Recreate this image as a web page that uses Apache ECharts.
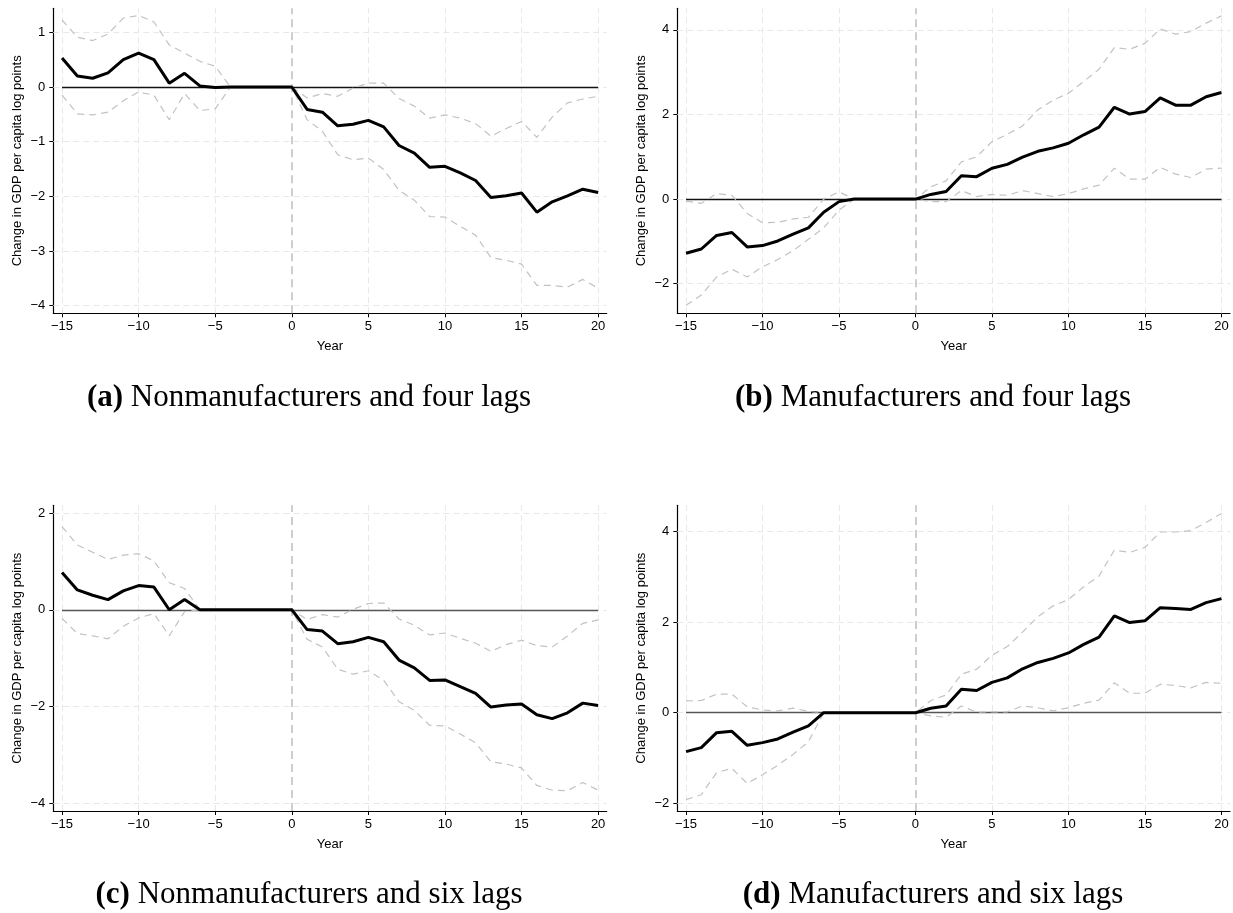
<!DOCTYPE html>
<html>
<head>
<meta charset="utf-8">
<script src="https://cdn.jsdelivr.net/npm/echarts@6/dist/echarts.min.js"></script>
<style>
  html, body { margin: 0; padding: 0; background: #fff; }
  #chart { width: 1233px; height: 913px; }
</style>
</head>
<body>
<div id="chart"></div>
<script>
// Event time, years relative to the event
const years = [-15,-14,-13,-12,-11,-10,-9,-8,-7,-6,-5,-4,-3,-2,-1,0,1,2,3,4,5,6,7,8,9,10,11,12,13,14,15,16,17,18,19,20];
const xTicks = [-15,-10,-5,0,5,10,15,20];

// (a) Nonmanufacturers, four lags
const aMain  = [0.53,0.20,0.16,0.26,0.50,0.62,0.50,0.07,0.25,0.02,-0.01,0,0,0,0,0,-0.41,-0.46,-0.71,-0.68,-0.61,-0.73,-1.07,-1.21,-1.47,-1.45,-1.57,-1.71,-2.02,-1.99,-1.94,-2.29,-2.10,-1.99,-1.87,-1.93];
const aUpper = [1.23,0.91,0.85,0.97,1.26,1.31,1.19,0.77,0.62,0.47,0.38,0,0,0,0,0,-0.20,-0.12,-0.17,-0.02,0.07,0.07,-0.21,-0.35,-0.57,-0.51,-0.57,-0.67,-0.90,-0.76,-0.63,-0.92,-0.55,-0.29,-0.22,-0.17];
const aLower = [-0.15,-0.49,-0.51,-0.46,-0.25,-0.09,-0.15,-0.60,-0.12,-0.43,-0.40,0,0,0,0,0,-0.60,-0.81,-1.24,-1.33,-1.30,-1.51,-1.89,-2.07,-2.37,-2.38,-2.55,-2.71,-3.12,-3.17,-3.24,-3.63,-3.63,-3.66,-3.52,-3.68];
const aTicks = [-4,-3,-2,-1,0,1];

// (b) Manufacturers, four lags
const bMain  = [-1.28,-1.18,-0.86,-0.79,-1.13,-1.10,-0.99,-0.83,-0.68,-0.31,-0.06,0,0,0,0,0,0.11,0.18,0.55,0.53,0.73,0.82,0.99,1.13,1.21,1.32,1.52,1.70,2.17,2.01,2.07,2.39,2.22,2.22,2.42,2.52];
const bUpper = [-0.05,-0.10,0.13,0.09,-0.34,-0.56,-0.55,-0.47,-0.43,0.00,0.17,0,0,0,0,0,0.29,0.43,0.88,1.00,1.36,1.53,1.73,2.11,2.34,2.50,2.78,3.07,3.58,3.54,3.68,4.02,3.90,3.96,4.16,4.33];
const bLower = [-2.51,-2.27,-1.84,-1.66,-1.84,-1.60,-1.43,-1.22,-0.95,-0.68,-0.26,0,0,0,0,0,-0.06,-0.06,0.20,0.06,0.11,0.09,0.20,0.13,0.06,0.13,0.24,0.33,0.73,0.47,0.47,0.75,0.59,0.51,0.71,0.73];
const bTicks = [-2,0,2,4];

// (c) Nonmanufacturers, six lags
const cMain  = [0.77,0.41,0.30,0.21,0.39,0.50,0.47,0.00,0.21,0,0,0,0,0,0,0,-0.41,-0.44,-0.70,-0.66,-0.57,-0.66,-1.04,-1.20,-1.46,-1.45,-1.59,-1.73,-2.01,-1.97,-1.95,-2.17,-2.25,-2.13,-1.93,-1.98];
const cUpper = [1.72,1.34,1.19,1.04,1.13,1.16,1.01,0.56,0.44,0,0,0,0,0,0,0,-0.20,-0.10,-0.15,0.01,0.13,0.14,-0.19,-0.32,-0.52,-0.48,-0.59,-0.69,-0.86,-0.72,-0.63,-0.74,-0.77,-0.54,-0.28,-0.21];
const cLower = [-0.18,-0.49,-0.54,-0.60,-0.34,-0.17,-0.08,-0.54,-0.04,0,0,0,0,0,0,0,-0.61,-0.77,-1.23,-1.33,-1.26,-1.46,-1.90,-2.08,-2.39,-2.40,-2.57,-2.75,-3.14,-3.19,-3.27,-3.63,-3.73,-3.74,-3.57,-3.73];
const cTicks = [-4,-2,0,2];

// (d) Manufacturers, six lags
const dMain  = [-0.86,-0.77,-0.44,-0.41,-0.72,-0.66,-0.58,-0.43,-0.29,0,0,0,0,0,0,0,0.10,0.15,0.52,0.49,0.67,0.77,0.97,1.11,1.20,1.32,1.51,1.67,2.14,1.99,2.03,2.32,2.30,2.28,2.43,2.52];
const dUpper = [0.26,0.27,0.41,0.41,0.13,0.06,0.04,0.10,0.03,0,0,0,0,0,0,0,0.27,0.39,0.85,0.96,1.27,1.46,1.78,2.12,2.36,2.50,2.78,3.02,3.59,3.54,3.65,3.99,3.99,4.02,4.20,4.40];
const dLower = [-1.92,-1.81,-1.32,-1.23,-1.56,-1.37,-1.16,-0.92,-0.64,0,0,0,0,0,0,0,-0.07,-0.10,0.15,0.01,0.02,0.02,0.15,0.11,0.04,0.11,0.21,0.28,0.66,0.43,0.43,0.63,0.60,0.55,0.67,0.65];
const dTicks = [-2,0,2,4];

const captions = [
  ['(a)', 'Nonmanufacturers and four lags'],
  ['(b)', 'Manufacturers and four lags'],
  ['(c)', 'Nonmanufacturers and six lags'],
  ['(d)', 'Manufacturers and six lags']
];

const yTitle = 'Change in GDP per capita log points';
const xTitle = 'Year';

// Panel geometry and axis extents
const panels = [
  { main: aMain, upper: aUpper, lower: aLower, ticks: aTicks, yMin: -4.14, yMax: 1.44,
    box: { left: 53.3, top: 8.3, width: 553.4, height: 305 }, cap: [309, 398], zeroColor: '#111' },
  { main: bMain, upper: bUpper, lower: bLower, ticks: bTicks, yMin: -2.70, yMax: 4.51,
    box: { left: 677.3, top: 8.3, width: 552.7, height: 305 }, cap: [933, 398], zeroColor: '#111' },
  { main: cMain, upper: cUpper, lower: cLower, ticks: cTicks, yMin: -4.16, yMax: 2.16,
    box: { left: 53.3, top: 505.3, width: 553.4, height: 305.7 }, cap: [309, 895], zeroColor: '#555' },
  { main: dMain, upper: dUpper, lower: dLower, ticks: dTicks, yMin: -2.17, yMax: 4.58,
    box: { left: 677.3, top: 505.3, width: 552.7, height: 305.7 }, cap: [933, 895], zeroColor: '#555' }
];

const X_MIN = -15.57, X_MAX = 20.56;
const SANS = 'Liberation Sans';
const SERIF = 'Liberation Serif';
const CAP_SIZE = 31;
const minus = v => String(v).replace('-', '\u2212');

const gridStyle  = { color: '#e8e8e8', width: 1, type: [6, 4] };
const eventStyle = { color: '#c9c9c9', width: 1.8, type: [8, 5] };
const ciStyle    = { color: '#c2c2c2', width: 1.2, type: [7, 5] };

const option = {
  animation: false,
  backgroundColor: '#fff',
  grid: [], xAxis: [], yAxis: [], series: [], graphic: []
};

panels.forEach((p, i) => {
  option.grid.push(Object.assign({ containLabel: false }, p.box));

  option.xAxis.push({
    gridIndex: i, type: 'value', min: X_MIN, max: X_MAX,
    name: xTitle, nameLocation: 'middle', nameGap: 27,
    nameTextStyle: { fontFamily: SANS, fontSize: 13, color: '#000' },
    axisLine: { onZero: false, lineStyle: { color: '#000', width: 1.2 } },
    axisTick: { show: true, length: 4, customValues: xTicks, lineStyle: { color: '#000', width: 1 } },
    axisLabel: { customValues: xTicks, formatter: minus, fontFamily: SANS, fontSize: 13, color: '#000', margin: 7 },
    splitLine: { show: false }
  });

  option.yAxis.push({
    gridIndex: i, type: 'value', min: p.yMin, max: p.yMax,
    name: yTitle, nameLocation: 'middle', nameGap: 29, nameRotate: 90,
    nameTextStyle: { fontFamily: SANS, fontSize: 13, color: '#000' },
    axisLine: { show: true, onZero: false, lineStyle: { color: '#000', width: 1.2 } },
    axisTick: { show: true, length: 4, customValues: p.ticks, lineStyle: { color: '#000', width: 1 } },
    axisLabel: { customValues: p.ticks, formatter: minus, fontFamily: SANS, fontSize: 13, color: '#000', margin: 8 },
    splitLine: { show: false }
  });

  const pts = arr => years.map((x, k) => [x, arr[k]]);

  // Reference lines: grid, event year, zero baseline
  const refLines = [];
  p.ticks.forEach(v => refLines.push({ yAxis: v, lineStyle: gridStyle }));
  xTicks.filter(v => v !== 0).forEach(v => refLines.push({ xAxis: v, lineStyle: gridStyle }));
  refLines.push({ xAxis: 0, lineStyle: eventStyle });
  const zeroStyle = { color: p.zeroColor, width: 1.3, type: 'solid' };
  refLines.push([
    { coord: [years[0], 0], lineStyle: zeroStyle },
    { coord: [years[years.length - 1], 0], lineStyle: zeroStyle }
  ]);

  option.series.push({
    type: 'line', xAxisIndex: i, yAxisIndex: i, data: pts(p.lower),
    symbol: 'none', lineStyle: ciStyle, z: 3, silent: true,
    markLine: {
      silent: true, symbol: ['none', 'none'], label: { show: false },
      emphasis: { disabled: true }, z: 1, animation: false,
      data: refLines
    }
  });
  option.series.push({
    type: 'line', xAxisIndex: i, yAxisIndex: i, data: pts(p.upper),
    symbol: 'none', lineStyle: ciStyle, z: 3, silent: true
  });
  option.series.push({
    type: 'line', xAxisIndex: i, yAxisIndex: i, data: pts(p.main),
    symbol: 'none', lineStyle: { color: '#000', width: 3 }, z: 4, silent: true
  });

  option.graphic.push({
    type: 'text', x: p.cap[0], y: p.cap[1], silent: true,
    style: {
      text: '{b|' + captions[i][0] + '} ' + captions[i][1],
      align: 'center', verticalAlign: 'middle',
      font: CAP_SIZE + 'px "' + SERIF + '"', fill: '#000',
      rich: { b: { fontFamily: SERIF, fontSize: CAP_SIZE, fontWeight: 'bold', fill: '#000' } }
    }
  });
});

const chart = echarts.init(document.getElementById('chart'), null, { renderer: 'canvas' });
chart.setOption(option);
</script>
</body>
</html>
